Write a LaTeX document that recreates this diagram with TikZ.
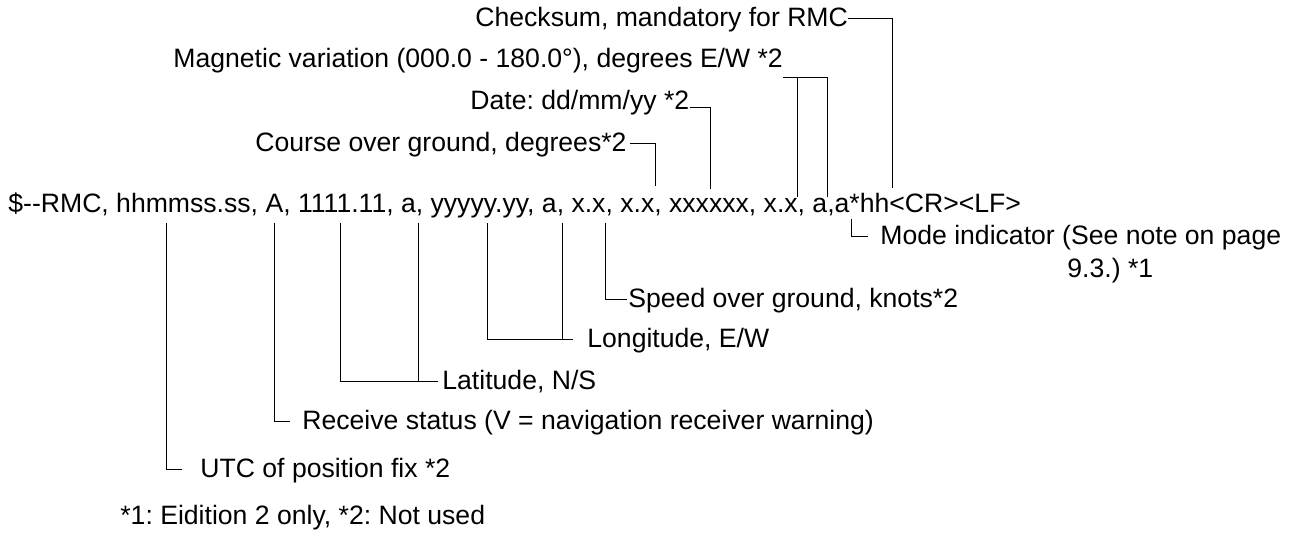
\documentclass[tikz,border=0pt]{standalone}
\usepackage{fontspec}
\setmainfont{Liberation Sans}
\frenchspacing
\usetikzlibrary{positioning,calc}
\tikzset{lbl/.style={anchor=base west,inner sep=0pt,text height=8pt,text depth=0pt},
 tap/.style={line width=.5pt},
 every node/.style={font=\fontsize{13.3}{16.5}\selectfont}}
\begin{document}
\begin{tikzpicture}[x=.5pt,y=-.5pt]
\useasboundingbox (0,0) rectangle (1296,533);
% the sentence
\node[lbl] (nmea) at (8,213) {\$-{}-RMC, hhmmss.ss, A, 1111.11, a, yyyyy.yy, a, x.x, x.x, xxxxxx, x.x, a,a*hh<CR><LF>};
% fields above
\node[lbl] (lchk) at (475,27) {Checksum, mandatory for RMC};
\node[lbl] (lmag) at (173,68) {Magnetic variation (000.0 - 180.0°), degrees E/W *2};
\node[lbl] (ldate) at (470,110) {Date: dd/mm/yy *2};
\node[lbl] (lcog) at (255,152) {Course over ground, degrees*2};
% fields below
\node[lbl] (lmode) at (880,245) {\begin{tabular}[t]{@{}l@{}}Mode indicator (See note on page\\\hspace*{93.5pt}9.3.) *1\end{tabular}};
\node[lbl] (lsog) at (628,308) {Speed over ground, knots*2};
\node[lbl] (llon) at (587,348) {Longitude, E/W};
\node[lbl] (llat) at (442,390) {Latitude, N/S};
\node[lbl] (lrec) at (302,430) {Receive status (V = navigation receiver warning)};
\node[lbl] (lutc) at (200,478) {UTC of position fix *2};
\node[lbl] (lnote) at (120,525) {*1: Eidition 2 only, *2: Not used};
% taps on the sentence
\coordinate (tcog) at (655,186);
\coordinate (tdate) at (710,189);
\coordinate (tmaga) at (797,197);
\coordinate (tmagb) at (827,197);
\coordinate (kmag) at (783,78);
\coordinate (tchk) at (892,188);
\coordinate (butc) at (166,223);
\coordinate (brec) at (274,223);
\coordinate (blata) at (340,223);
\coordinate (blatb) at (418,223);
\coordinate (blona) at (487,223);
\coordinate (blonb) at (562,223);
\coordinate (bsog) at (605,223);
\coordinate (bmode) at (851,219);
% leaders
\draw[tap] (lchk.east) -| (tchk);
\draw[tap] (kmag) -| (tmagb);
\draw[tap] (tmaga) -- (tmaga |- kmag);
\draw[tap] ([yshift=-3pt]ldate.east) -| (tdate);
\draw[tap,shorten <=1.5pt] (lcog.east) -| (tcog);
\draw[tap,shorten >=6pt] (bmode) |- ([yshift=4pt]lmode.base west);
\draw[tap,shorten >=.5pt] (bsog) |- (lsog.west);
\draw[tap,shorten >=7pt] (blona) |- (llon.west);
\draw[tap] (blonb) -- (blonb |- llon.west);
\draw[tap,shorten >=2pt] (blata) |- (llat.west);
\draw[tap] (blatb) -- (blatb |- llat.west);
\draw[tap,shorten >=6pt] (brec) |- (lrec.west);
\draw[tap,shorten >=9pt] (butc) |- (lutc.west);
\end{tikzpicture}
\end{document}
